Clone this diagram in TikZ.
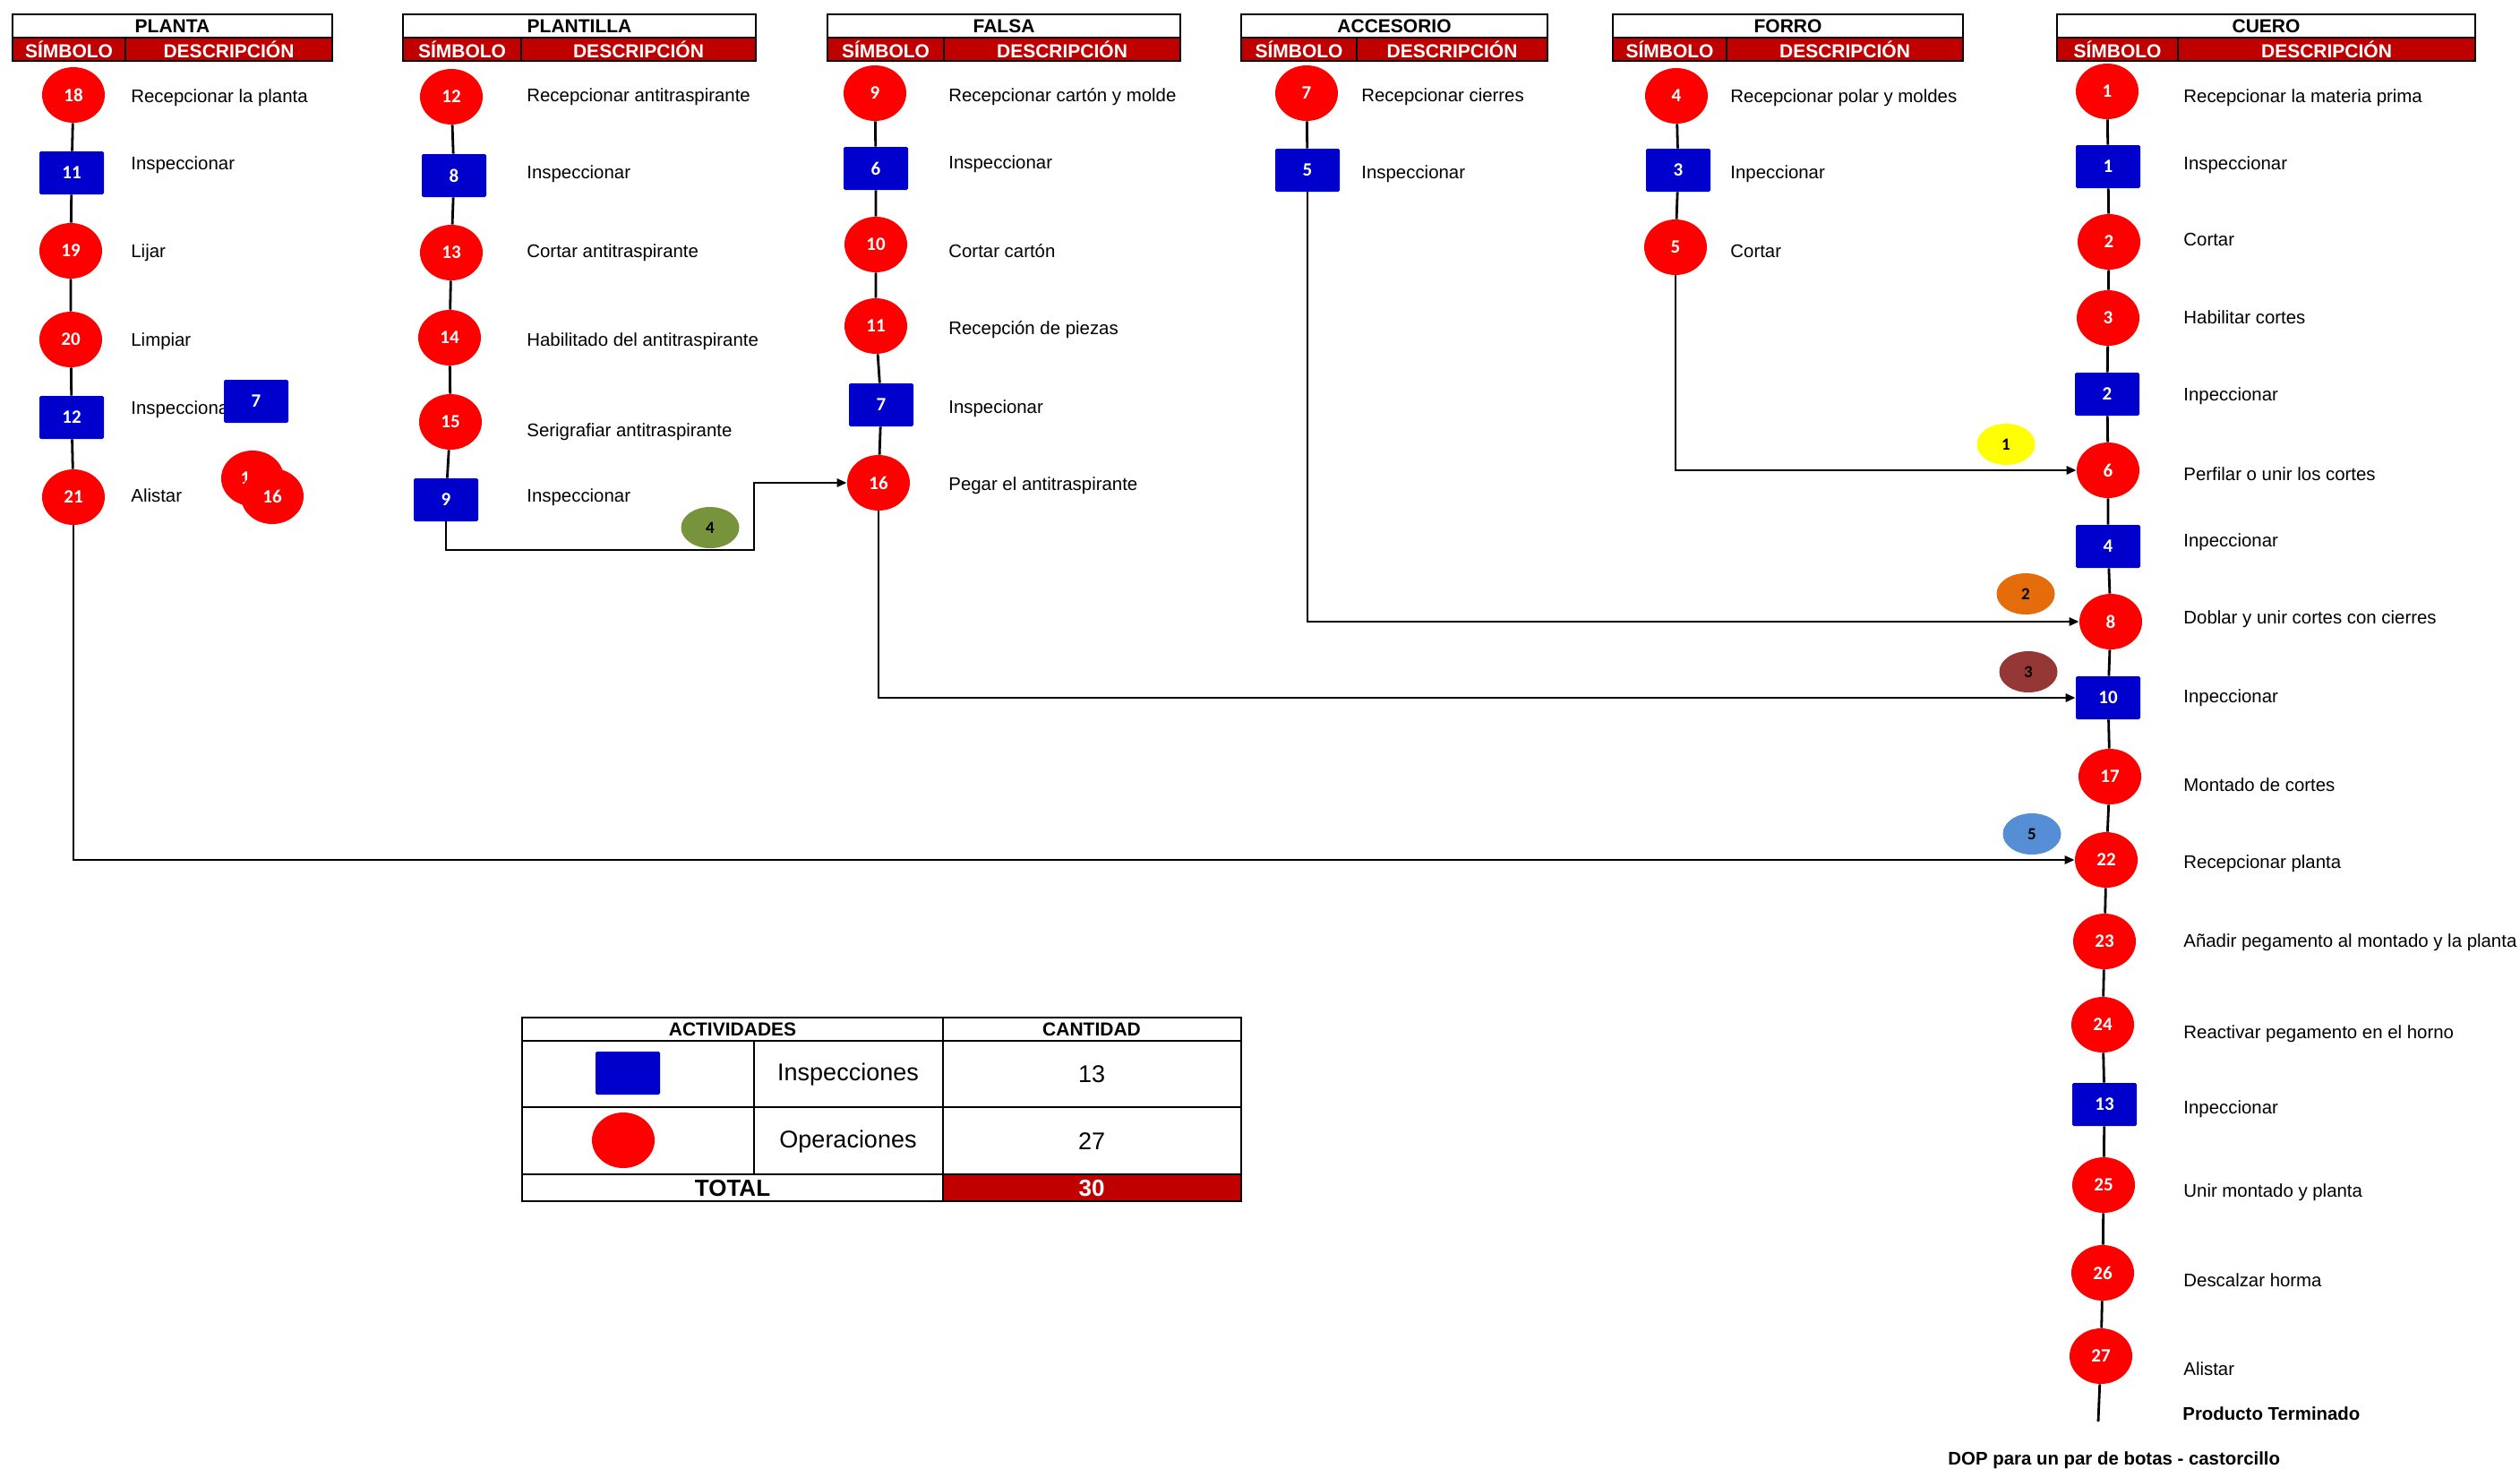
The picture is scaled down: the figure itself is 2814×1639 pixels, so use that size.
\documentclass[tikz,border=0pt]{standalone}
\usepackage{fontspec}
\setmainfont{Liberation Sans}
\newfontfamily\numfont{Carlito}
\usetikzlibrary{shapes.geometric,arrows.meta}
\definecolor{opred}{HTML}{FF0000}
\definecolor{inblue}{HTML}{0000CC}
\definecolor{hdred}{HTML}{C00000}
\definecolor{tagyellow}{HTML}{FFFF00}
\definecolor{tagorange}{HTML}{E46C0A}
\definecolor{tagbrown}{HTML}{953735}
\definecolor{tagblue}{HTML}{558ED5}
\definecolor{taggreen}{HTML}{77933C}
\tikzset{
  op/.style={ellipse, fill=opred, minimum width=35pt, minimum height=31pt, inner sep=0pt,
    text=white, font=\numfont\bfseries\fontsize{10.5}{12}\selectfont},
  insp/.style={rectangle, rounded corners=0.8pt, fill=inblue, minimum width=36pt, minimum height=24pt,
    inner sep=0pt, text=white, font=\numfont\bfseries\fontsize{10.5}{12}\selectfont},
  tag/.style={ellipse, minimum width=32.5pt, minimum height=23pt, inner sep=0pt,
    font=\numfont\bfseries\fontsize{9.5}{11}\selectfont},
  desc/.style={anchor=west, inner sep=0pt, text height=7pt, text depth=2pt, yshift=-1pt,
    font=\fontsize{10.2}{12}\selectfont},
  descbold/.style={desc, font=\bfseries\fontsize{10.2}{12}\selectfont},
  hdtitle/.style={inner sep=0pt, font=\bfseries\fontsize{10.5}{12}\selectfont},
  hdsub/.style={inner sep=0pt, text=white, font=\bfseries\fontsize{10.5}{12}\selectfont},
  frame/.style={line width=1.3pt},
  link/.style={line width=1.4pt},
  flow/.style={line width=1.4pt, -{Triangle[length=5.5pt,width=4.5pt]}},
  tblhead/.style={inner sep=0pt, font=\bfseries\fontsize{10.5}{12}\selectfont},
  tbltext/.style={inner sep=0pt, font=\fontsize{13.5}{15}\selectfont},
  tbltotal/.style={inner sep=0pt, font=\bfseries\fontsize{13}{15}\selectfont},
}
\begin{document}
\begin{tikzpicture}[x=0.5pt,y=-0.5pt]
\path[use as bounding box] (0,0) rectangle (2814,1639);

% ---- column headers ----
\foreach \xa/\xd/\xb/\ttl/\nm in {14/140/371/PLANTA/hplanta, 450/582/844/PLANTILLA/hplantilla,
    924/1054/1318/FALSA/hfalsa, 1386/1515/1728/ACCESORIO/haccesorio,
    1801/1928/2192/FORRO/hforro, 2297/2432/2764/CUERO/hcuero}{
  \draw[frame, fill=white] (\xa,16) rectangle (\xb,42);
  \draw[frame, fill=hdred] (\xa,42) rectangle (\xd,68);
  \draw[frame, fill=hdred] (\xd,42) rectangle (\xb,68);
  \node[hdtitle] (\nm-t) at ({(\xa+\xb)/2},29) {\ttl};
  \node[hdsub] (\nm-s) at ({(\xa+\xd)/2},55) {SÍMBOLO};
  \node[hdsub] (\nm-d) at ({(\xd+\xb)/2},55) {DESCRIPCIÓN};
}

% ---- PLANTA ----
\node[op]   (a18) at (82,106) {18};
\node[insp] (a11) at (80,193) {11};
\node[op]   (a19) at (79,280) {19};
\node[op]   (a20) at (79,379) {20};
\node[insp] (a12) at (80,466) {12};
\node[op]   (a21) at (82,555) {21};
\node[desc] (ta1) at (146,107) {Recepcionar la planta};
\node[desc] (ta2) at (146,182) {Inspeccionar};
\node[desc] (ta3) at (146,280) {Lijar};
\node[desc] (ta4) at (146,379) {Limpiar};
\node[desc] (ta5) at (146,455) {Inspeccionar};
\node[desc] (ta6) at (146,553) {Alistar};
\node[insp] (s7)  at (286,448) {7};
\node[op]   (s1)  at (282,534) {\hspace*{-8pt}1};
\node[op]   (s16) at (304,554) {16};
\draw[link] (a18) -- (a11) (a11) -- (a19) (a19) -- (a20) (a20) -- (a12) (a12) -- (a21);

% ---- PLANTILLA ----
\node[op]   (b12) at (504,108) {12};
\node[insp] (b8)  at (507,196) {8};
\node[op]   (b13) at (504,282) {13};
\node[op]   (b14) at (502,377) {14};
\node[op]   (b15) at (503,471) {15};
\node[insp] (b9)  at (498,558) {9};
\node[desc] (tb1) at (588,106) {Recepcionar antitraspirante};
\node[desc] (tb2) at (588,192) {Inspeccionar};
\node[desc] (tb3) at (588,280) {Cortar antitraspirante};
\node[desc] (tb4) at (588,379) {Habilitado del antitraspirante};
\node[desc] (tb5) at (588,480) {Serigrafiar antitraspirante};
\node[desc] (tb6) at (588,553) {Inspeccionar};
\draw[link] (b12) -- (b8) (b8) -- (b13) (b13) -- (b14) (b14) -- (b15) (b15) -- (b9);
\node[tag, fill=taggreen] (g4) at (793,589) {4};

% ---- FALSA ----
\node[op]   (c9)  at (977,104) {9};
\node[insp] (c6)  at (978,188) {6};
\node[op]   (c10) at (978,273) {10};
\node[op]   (c11) at (978,364) {11};
\node[insp] (c7)  at (984,452) {7};
\node[op]   (c16) at (981,539) {16};
\node[desc] (tc1) at (1059,106) {Recepcionar cartón y molde};
\node[desc] (tc2) at (1059,181) {Inspeccionar};
\node[desc] (tc3) at (1059,280) {Cortar cartón};
\node[desc] (tc4) at (1059,366) {Recepción de piezas};
\node[desc] (tc5) at (1059,454) {Inspecionar};
\node[desc] (tc6) at (1059,540) {Pegar el antitraspirante};
\draw[link] (c9) -- (c6) (c6) -- (c10) (c10) -- (c11) (c11) -- (c7) (c7) -- (c16);

% ---- ACCESORIO ----
\node[op]   (d7) at (1459,104) {7};
\node[insp] (d5) at (1460,190) {5};
\node[desc] (td1) at (1520,106) {Recepcionar cierres};
\node[desc] (td2) at (1520,192) {Inspeccionar};
\draw[link] (d7) -- (d5);

% ---- FORRO ----
\node[op]   (e4) at (1872,107) {4};
\node[insp] (e3) at (1874,190) {3};
\node[op]   (e5) at (1871,276) {5};
\node[desc] (te1) at (1932,107) {Recepcionar polar y moldes};
\node[desc] (te2) at (1932,192) {Inpeccionar};
\node[desc] (te3) at (1932,280) {Cortar};
\draw[link] (e4) -- (e3) (e3) -- (e5);

% ---- CUERO ----
\node[op]   (f1)   at (2353,102) {1};
\node[insp] (f1r)  at (2354,186) {1};
\node[op]   (f2)   at (2355,270) {2};
\node[op]   (f3)   at (2354,355) {3};
\node[insp] (f2r)  at (2353,440) {2};
\node[op]   (f6)   at (2354,525) {6};
\node[insp] (f4r)  at (2354,610) {4};
\node[op]   (f8)   at (2357,694) {8};
\node[insp] (f10r) at (2354,779) {10};
\node[op]   (f17)  at (2356,867) {17};
\node[op]   (f22)  at (2352,960) {22};
\node[op]   (f23)  at (2350,1051) {23};
\node[op]   (f24)  at (2348,1144) {24};
\node[insp] (f13r) at (2350,1233) {13};
\node[op]   (f25)  at (2349,1323) {25};
\node[op]   (f26)  at (2348,1421) {26};
\node[op]   (f27)  at (2346,1514) {27};
\coordinate (fin) at (2343,1587);
\draw[link] (f1) -- (f1r) (f1r) -- (f2) (f2) -- (f3) (f3) -- (f2r) (f2r) -- (f6) (f6) -- (f4r)
  (f4r) -- (f8) (f8) -- (f10r) (f10r) -- (f17) (f17) -- (f22) (f22) -- (f23) (f23) -- (f24)
  (f24) -- (f13r) (f13r) -- (f25) (f25) -- (f26) (f26) -- (f27) (f27) -- (fin);
\node[desc] (tf1)  at (2438,107)  {Recepcionar la materia prima};
\node[desc] (tf2)  at (2438,182)  {Inspeccionar};
\node[desc] (tf3)  at (2438,267)  {Cortar};
\node[desc] (tf4)  at (2438,354)  {Habilitar cortes};
\node[desc] (tf5)  at (2438,440)  {Inpeccionar};
\node[desc] (tf6)  at (2438,529)  {Perfilar o unir los cortes};
\node[desc] (tf7)  at (2438,603)  {Inpeccionar};
\node[desc] (tf8)  at (2438,689)  {Doblar y unir cortes con cierres};
\node[desc] (tf9)  at (2438,777)  {Inpeccionar};
\node[desc] (tf10) at (2438,876)  {Montado de cortes};
\node[desc] (tf11) at (2438,962)  {Recepcionar planta};
\node[desc] (tf12) at (2438,1050) {Añadir pegamento al montado y la planta};
\node[desc] (tf13) at (2438,1152) {Reactivar pegamento en el horno};
\node[desc] (tf14) at (2438,1236) {Inpeccionar};
\node[desc] (tf15) at (2438,1329) {Unir montado y planta};
\node[desc] (tf16) at (2438,1429) {Descalzar horma};
\node[desc] (tf17) at (2438,1528) {Alistar};
\node[descbold] (tf18) at (2437,1578) {Producto Terminado};
\node[descbold] (title) at (2175,1628) {DOP para un par de botas - castorcillo};

% ---- joining flows ----
\coordinate (k1) at (842,614);
\draw[flow] (b9.south) |- (k1) |- (c16.west);
\draw[flow] (e5.south) |- (f6.west);
\draw[flow] (d5.south) |- (f8.west);
\draw[flow] (c16.south) |- (f10r.west);
\draw[flow] (a21.south) |- (f22.west);
\node[tag, fill=tagyellow] (l1) at (2240,496) {1};
\node[tag, fill=tagorange] (l2) at (2262,663) {2};
\node[tag, fill=tagbrown]  (l3) at (2265,750) {3};
\node[tag, fill=tagblue]   (l5) at (2269,931) {5};

% ---- summary table ----
\fill[hdred] (1053,1311) rectangle (1386,1341);
\draw[frame] (583,1162) -- (1386,1162) (583,1236) -- (1386,1236) (583,1311) -- (1386,1311)
  (1053,1136) -- (1053,1341) (842,1162) -- (842,1311);
\draw[frame] (583,1136) rectangle (1386,1341);
\node[tblhead] (th1) at (818,1149) {ACTIVIDADES};
\node[tblhead] (th2) at (1219,1149) {CANTIDAD};
\node[insp] (sq) at (701,1198) {};
\node[op] (ci) at (696,1273) {};
\node[tbltext] (tr1) at (947,1199) {Inspecciones};
\node[tbltext] (tr2) at (947,1274) {Operaciones};
\node[tbltext] (tq1) at (1219,1199) {13};
\node[tbltext] (tq2) at (1219,1274) {27};
\node[tbltotal] (tt) at (818,1327) {TOTAL};
\node[tbltotal, text=white] (tq3) at (1219,1327) {30};
\end{tikzpicture}
\end{document}
